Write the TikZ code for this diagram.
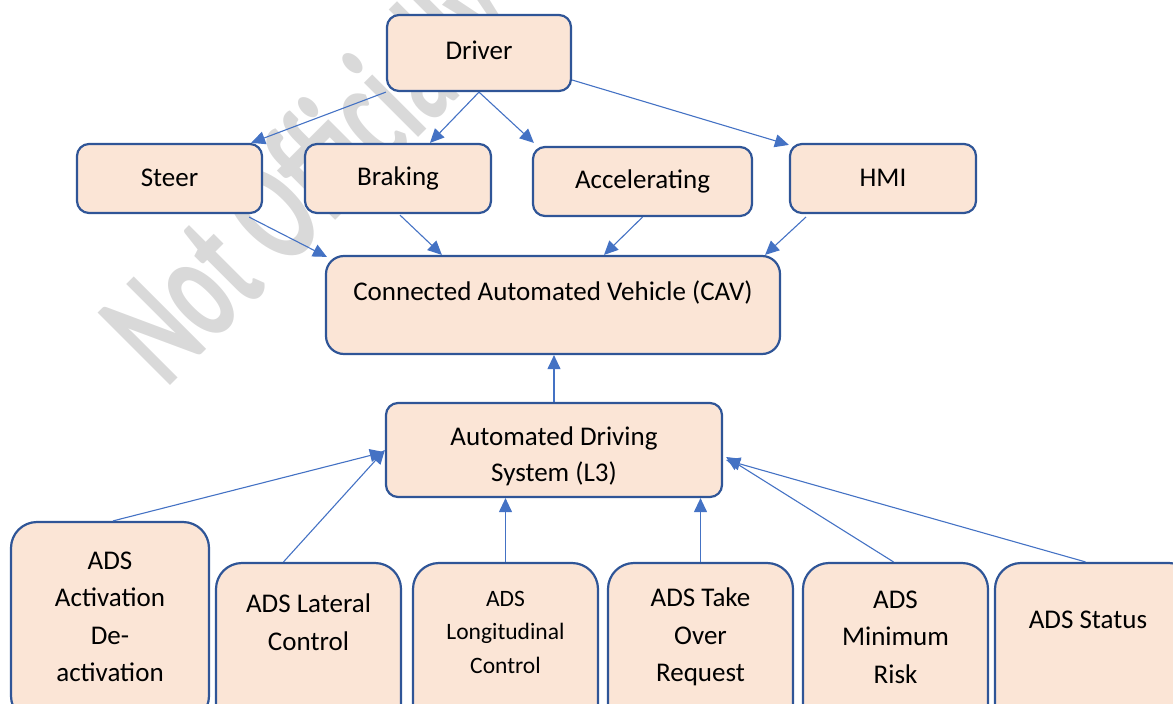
\documentclass[tikz,border=0pt]{standalone}
\usepackage{fontspec}
\setmainfont{Carlito}
\usetikzlibrary{calc,arrows.meta}
\definecolor{boxfill}{HTML}{FBE5D6}
\definecolor{boxline}{HTML}{2F5597}
\definecolor{arrowblue}{HTML}{4472C4}
\definecolor{markgray}{HTML}{D9D9D9}

\begin{document}
\begin{tikzpicture}[x=1pt,y=-1pt,
  box/.style={draw=boxline, line width=2.2pt, fill=boxfill, rounded corners=12pt,
    inner sep=0pt, font=\fontsize{27}{37}\selectfont, align=center},
  tallbox/.style={box, rounded corners=26pt},
  lbl/.style={font=\fontsize{27}{37.5}\selectfont, align=center, text=black, inner sep=0pt},
  smalllbl/.style={lbl, font=\fontsize{23.5}{33.5}\selectfont},
  link/.style={draw=arrowblue, line width=1.1pt, -{Triangle[length=14pt,width=13pt]}}
]
\useasboundingbox (0,0) rectangle (1173,704);
\clip (0,0) rectangle (1173,704);

% watermark behind the diagram
\node[rotate=45, xscale=0.6, anchor=base west, text=markgray, inner sep=0pt,
      font=\bfseries\fontsize{158}{158}\selectfont] (mark) at (166,390) {Not Officially};

% upper boxes
\node[box, minimum width=184pt, minimum height=76pt] (driver) at (479,53) {\raisebox{5pt}{Driver}};
\node[box, minimum width=185pt, minimum height=69pt] (steer) at (169.5,178.5) {\raisebox{1.5pt}{Steer}};
\node[box, minimum width=186pt, minimum height=69pt] (braking) at (398,178.5) {Braking};
\node[box, minimum width=219pt, minimum height=69pt] (accel) at (642.5,181.5) {Accelerating};
\node[box, minimum width=186pt, minimum height=69pt] (hmi) at (883,178.5) {\raisebox{1.5pt}{HMI}};

% vehicle and automated driving system
\node[box, rounded corners=18pt, minimum width=454pt, minimum height=98pt] (cav) at (553,305) {};
\node[lbl] (cavtext) at (553,292) {Connected Automated Vehicle (CAV)};
\node[box, minimum width=336pt, minimum height=94pt] (ads) at (554,450) {};
\node[lbl, font=\fontsize{27}{36}\selectfont] (adstext) at (554,456) {Automated Driving\\System (L3)};

% ADS function boxes along the bottom
\node[tallbox, minimum width=198pt, minimum height=200pt] (b1) at (110,622) {};
\node[tallbox, minimum width=185pt, minimum height=200pt] (b2) at (308.5,663) {};
\node[tallbox, minimum width=185pt, minimum height=200pt] (b3) at (505.5,663) {};
\node[tallbox, minimum width=185pt, minimum height=200pt] (b4) at (700.5,663) {};
\node[tallbox, minimum width=185pt, minimum height=200pt] (b5) at (895.5,663) {};
\node[tallbox, minimum width=200pt, minimum height=200pt] (b6) at (1095,663) {};
\node[lbl] (b1text) at (110,617) {ADS\\Activation\\De-\\activation};
\node[lbl] (b2text) at (308.5,622) {ADS Lateral\\Control};
\node[smalllbl] (b3text) at (505.5,632) {ADS\\Longitudinal\\Control};
\node[lbl] (b4text) at (700.5,637) {ADS Take\\Over\\Request};
\node[lbl] (b5text) at (895.5,637) {ADS\\Minimum\\Risk};
\node[lbl] (b6text) at (1088,620) {ADS Status};

% driver inputs
\draw[link] (driver.south west) -- ($(steer.north east)+(-12,0)$);
\draw[link] (driver.south) -- ($(braking.north)+(32,0)$);
\draw[link] (driver.south) -- ($(accel.north west)+(2,-3)$);
\draw[link] ($(driver.east)+(0,27)$) -- ($(hmi.north west)+(0,2)$);

% inputs into the vehicle
\draw[link] ($(steer.south east)+(-14,3)$) -- ($(cav.north west)+(2,2)$);
\draw[link] ($(braking.south)+(2,1)$) -- ($(cav.north west)+(117,0)$);
\draw[link] (accel.south) -- ($(cav.north)+(51,0)$);
\draw[link] ($(hmi.south west)+(17,3)$) -- ($(cav.north east)+(-16,0)$);
\draw[link] (ads.north) -- (ads.north |- cav.south);

% ADS functions into the ADS
\draw[link] ($(b1.north)+(3,0)$) -- ($(ads.west)+(-1,2)$);
\draw[link] ($(b2.north)+(-25,0)$) -- (ads.west);
\draw[link] (b3.north) -- (b3.north |- ads.south);
\draw[link] (b4.north) -- (b4.north |- ads.south);
\draw[link] ($(b5.north)+(-2,0)$) -- ($(ads.east)+(3,7)$);
\draw[link] ($(b6.north)+(-9.5,0)$) -- ($(ads.east)+(3,10)$);
\end{tikzpicture}
\end{document}
